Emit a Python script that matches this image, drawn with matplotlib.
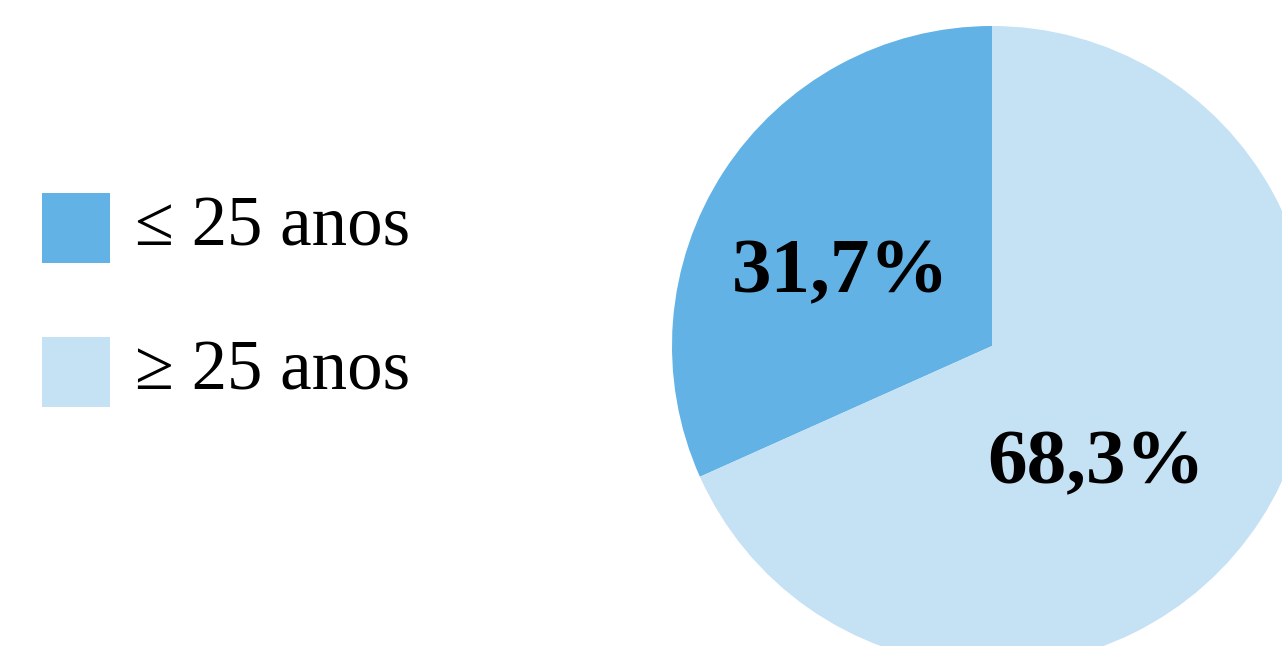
import matplotlib
matplotlib.use("Agg")
from matplotlib import pyplot as plt
from matplotlib.patches import Rectangle

plt.rcParams['font.family'] = ['Liberation Serif', 'DejaVu Serif']

# data
categories = ["\u2264 25 anos", "\u2265 25 anos"]
shares = [31.7, 68.3]
share_labels = ["31,7%", "68,3%"]
colors = ["#62B2E6", "#C5E1F4"]

W, H = 1282, 646
fig = plt.figure(figsize=(W / 100, H / 100), dpi=100)
ax = fig.add_axes([0, 0, 1, 1])

# pie in pixel units, partly cut off by the right/bottom edges
cx, cy, r = 992, H - 346, 320
wedges, _ = ax.pie(shares, colors=colors, startangle=90, counterclock=True,
                   center=(cx, cy), radius=r, frame=True,
                   wedgeprops=dict(linewidth=0))

# percentage labels, placed by baseline
ax.text(841, H - 292, share_labels[0], ha='center', va='baseline',
        fontsize=57, fontweight='bold')
ax.text(1096, H - 483, share_labels[1], ha='center', va='baseline',
        fontsize=57, fontweight='bold')

# legend drawn by hand
for i, (lab, col) in enumerate(zip(categories, colors)):
    top = 193 + i * 144
    ax.add_patch(Rectangle((42, H - top - 70), 68, 70, facecolor=col, edgecolor='none'))
    ax.text(135, H - (245 + i * 144), lab, ha='left', va='baseline', fontsize=51)

ax.set_xlim(0, W)
ax.set_ylim(0, H)
ax.set_aspect('auto')
ax.axis('off')

fig.savefig("out.png", dpi=100)
